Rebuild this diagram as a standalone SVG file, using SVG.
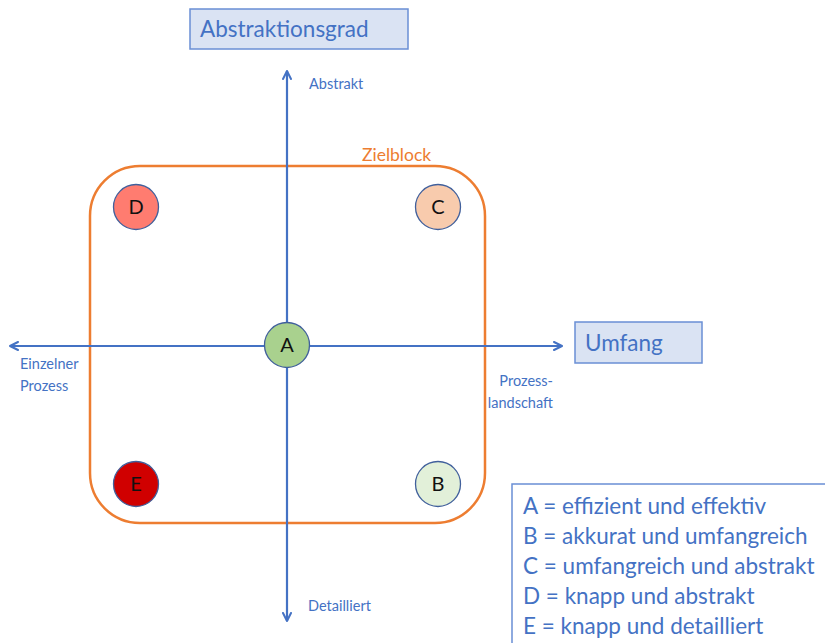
<svg xmlns="http://www.w3.org/2000/svg" width="825" height="643" viewBox="0 0 825 643">
  <style>
    text { font-family: Lato, "Open Sans", "Liberation Sans", sans-serif; }
    .title { font-size: 22.5px; fill: #4472C4; }
    .lbl { font-size: 14.5px; fill: #4472C4; }
    .box { fill: #DAE3F3; stroke: #6A8FD5; stroke-width: 1.5; }
    .axis { stroke: #4472C4; stroke-width: 2.2; fill: none; }
    .node circle { stroke: #41609C; stroke-width: 1.3; }
    .node text { font-size: 20px; fill: #111; text-anchor: middle; }
    .legend { font-size: 22.5px; fill: #4472C4; }
  </style>
  <defs>
    <marker id="arr" viewBox="0 0 10 10" refX="9" refY="5" markerWidth="10" markerHeight="10" markerUnits="userSpaceOnUse" orient="auto">
      <path d="M1,1 L9,5 L1,9" fill="none" stroke="#4472C4" stroke-width="2" stroke-linecap="round" stroke-linejoin="round"/>
    </marker>
  </defs>
  <rect width="825" height="643" fill="#FFFFFF"/>

  <!-- target block -->
  <g id="zielblock">
    <rect x="90" y="166" width="395" height="357" rx="50" ry="50" fill="none" stroke="#ED7D31" stroke-width="2.5"/>
    <text x="362" y="161" style="font-size:17.5px;fill:#ED7D31">Zielblock</text>
  </g>

  <!-- axes -->
  <g id="connectors">
    <line class="axis" x1="287" y1="346" x2="287" y2="71" marker-end="url(#arr)"/>
    <line class="axis" x1="287" y1="346" x2="287" y2="621" marker-end="url(#arr)"/>
    <line class="axis" x1="287" y1="346" x2="562" y2="346" marker-end="url(#arr)"/>
    <line class="axis" x1="287" y1="346" x2="10" y2="346" marker-end="url(#arr)"/>
  </g>

  <!-- axis titles -->
  <g id="abstraktionsgrad">
    <rect class="box" x="190" y="9" width="218" height="40"/>
    <text class="title" x="200" y="37">Abstraktionsgrad</text>
  </g>
  <g id="umfang">
    <rect class="box" x="575" y="322" width="127" height="41"/>
    <text class="title" x="585" y="351">Umfang</text>
  </g>

  <!-- axis end labels -->
  <g id="axis-labels">
    <text class="lbl" x="309" y="89">Abstrakt</text>
    <text class="lbl" x="308" y="611">Detailliert</text>
    <text class="lbl" x="20" y="369">Einzelner</text>
    <text class="lbl" x="20" y="391">Prozess</text>
    <text class="lbl" x="553" y="386" text-anchor="end">Prozess-</text>
    <text class="lbl" x="553" y="408" text-anchor="end">landschaft</text>
  </g>

  <!-- quality points -->
  <g id="node-a" class="node">
    <circle cx="287" cy="345" r="22.5" fill="#A9D18E"/>
    <text x="287" y="352">A</text>
  </g>
  <g id="node-b" class="node">
    <circle cx="438" cy="484" r="22.5" fill="#E2F0D9"/>
    <text x="438" y="491">B</text>
  </g>
  <g id="node-c" class="node">
    <circle cx="438" cy="207" r="22.5" fill="#F8CBAD"/>
    <text x="438" y="214">C</text>
  </g>
  <g id="node-d" class="node">
    <circle cx="136" cy="207" r="22.5" fill="#FF7C70"/>
    <text x="136" y="214">D</text>
  </g>
  <g id="node-e" class="node">
    <circle cx="136" cy="484" r="22.5" fill="#D00000"/>
    <text x="136" y="491">E</text>
  </g>

  <!-- legend -->
  <g id="legend">
    <rect x="512" y="484" width="330" height="180" fill="#FFFFFF" stroke="#6A8FD5" stroke-width="1.5"/>
    <text class="legend" x="523" y="514">A = effizient und effektiv</text>
    <text class="legend" x="523" y="544">B = akkurat und umfangreich</text>
    <text class="legend" x="523" y="574">C = umfangreich und abstrakt</text>
    <text class="legend" x="523" y="604">D = knapp und abstrakt</text>
    <text class="legend" x="523" y="634">E = knapp und detailliert</text>
  </g>
</svg>
